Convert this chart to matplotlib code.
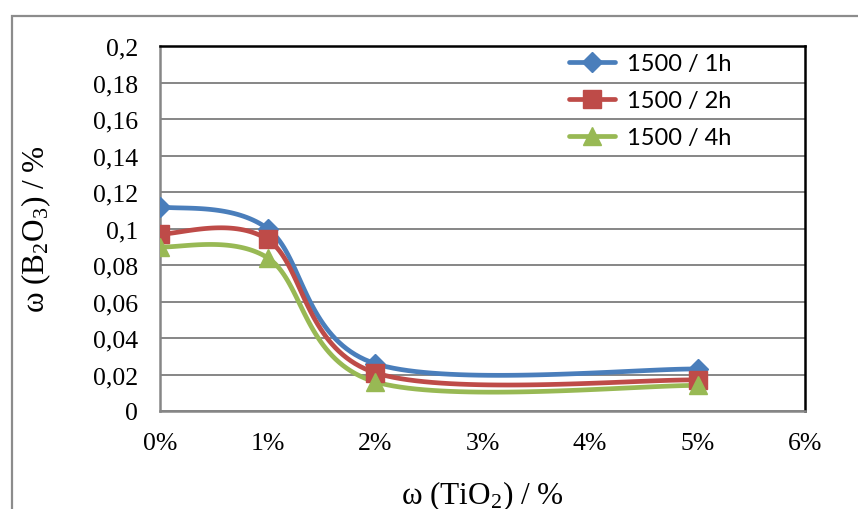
import numpy as np
import matplotlib
matplotlib.use("Agg")
import matplotlib.pyplot as plt
from matplotlib.patches import Rectangle
from matplotlib.lines import Line2D

plt.rcParams['mathtext.fontset'] = 'custom'
plt.rcParams['mathtext.rm'] = 'Liberation Serif'
plt.rcParams['mathtext.it'] = 'Liberation Serif:italic'

# ---- data ----
x_tio2 = [0, 1, 2, 5]                       # % TiO2
s_1h = [0.112, 0.100, 0.026, 0.023]
s_2h = [0.097, 0.094, 0.021, 0.017]
s_4h = [0.090, 0.084, 0.016, 0.014]
series_labels = ['1500 / 1h', '1500 / 2h', '1500 / 4h']
x_ticks = [0, 1, 2, 3, 4, 5, 6]
x_tick_labels = ['0%', '1%', '2%', '3%', '4%', '5%', '6%']
y_ticks = [0, 0.02, 0.04, 0.06, 0.08, 0.10, 0.12, 0.14, 0.16, 0.18, 0.20]
y_tick_labels = ['0', '0,02', '0,04', '0,06', '0,08', '0,1', '0,12', '0,14', '0,16', '0,18', '0,2']

colors = ['#4A7EBB', '#BE4B48', '#98B954']
markers = ['D', 's', '^']
msizes = [10.5, 13, 13]

W, H = 858, 510
fig = plt.figure(figsize=(W / 100, H / 100), dpi=100)
L, R, B, T = 160, 805, 412, 47
ax = fig.add_axes([L / W, 1 - B / H, (R - L) / W, (B - T) / H])
ax.set_xlim(0, 6)
ax.set_ylim(0, 0.2)

# outer chart frame
fig.patches.append(Rectangle((11.5 / W, -0.1), 2.0, 1 - 16.5 / H + 0.1,
                             transform=fig.transFigure, fill=False,
                             edgecolor='#8C8C8C', lw=1.6, zorder=0))

ax.set_yticks(y_ticks)
ax.set_yticklabels(y_tick_labels)
ax.set_xticks(x_ticks)
ax.set_xticklabels(x_tick_labels)
ax.tick_params(axis='both', length=0, labelsize=18.5)
ax.tick_params(axis='y', pad=16)
ax.tick_params(axis='x', pad=15)
for lab in ax.get_xticklabels() + ax.get_yticklabels():
    lab.set_fontfamily('Liberation Serif')

ax.grid(axis='y', color='#868686', lw=1.4)
ax.set_axisbelow(True)
ax.spines['left'].set_color('#868686')
ax.spines['bottom'].set_color('#868686')
ax.spines['left'].set_linewidth(1.8)
ax.spines['bottom'].set_linewidth(1.8)
ax.spines['top'].set_color('black')
ax.spines['right'].set_color('black')
ax.spines['top'].set_linewidth(1.8)
ax.spines['right'].set_linewidth(1.8)


def excel_smooth(xs, ys, n=40):
    pts = ax.transData.transform(np.column_stack([xs, ys]))
    P = np.vstack([pts[0], pts, pts[-1]])
    out = []
    t = np.linspace(0, 1, n)[:, None]
    for i in range(1, len(P) - 2):
        p0, p1 = P[i], P[i + 1]
        c1 = p0 + (P[i + 1] - P[i - 1]) / 6.0
        c2 = p1 - (P[i + 2] - P[i]) / 6.0
        seg = ((1 - t) ** 3) * p0 + 3 * ((1 - t) ** 2) * t * c1 + 3 * (1 - t) * t ** 2 * c2 + t ** 3 * p1
        out.append(seg if i == 1 else seg[1:])
    curve = np.vstack(out)
    return ax.transData.inverted().transform(curve)


handles = []
for ys, c, m, ms, lab in zip([s_1h, s_2h, s_4h], colors, markers, msizes, series_labels):
    cv = excel_smooth(x_tio2, ys)
    ax.plot(cv[:, 0], cv[:, 1], color=c, lw=3.4, solid_capstyle='round', zorder=3)
    ax.plot(x_tio2, ys, linestyle='none', marker=m, markersize=ms, color=c, zorder=4)
    handles.append(Line2D([], [], color=c, lw=3.4, marker=m, markersize=ms,
                          solid_capstyle='round', label=lab))

leg = ax.legend(handles=handles, loc='upper left', bbox_to_anchor=(0.62, 1.006),
                frameon=False, prop={'family': 'Lato', 'size': 17},
                handlelength=1.95, handletextpad=0.5, labelspacing=0.68,
                borderaxespad=0)

ax.set_ylabel(r'ω (B$_2$O$_3$) / %', family='Liberation Serif', fontsize=22.5)
ax.yaxis.set_label_coords((53 - L) / (R - L), 0.5)
ax.set_xlabel(r'ω (TiO$_2$) / %', family='Liberation Serif', fontsize=22.5)
ax.xaxis.set_label_coords(0.5, -(479 - B) / (B - T))

fig.savefig('out.png', dpi=100)
